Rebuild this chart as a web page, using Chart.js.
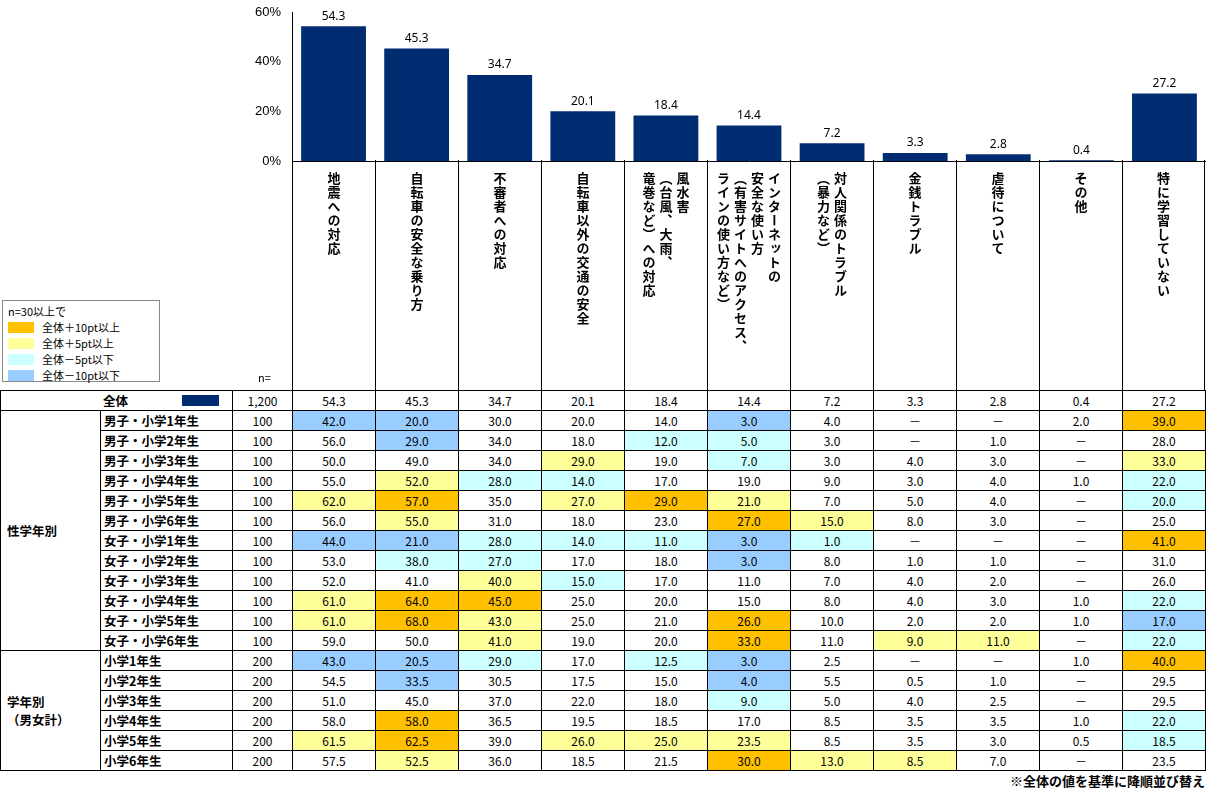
<!DOCTYPE html>
<html><head><meta charset="utf-8">
<script src="https://cdn.jsdelivr.net/npm/chart.js@4/dist/chart.umd.min.js"></script>
<style>
body{margin:0;width:1209px;height:791px;position:relative;background:#fff;font-family:"Noto Sans CJK JP","Noto Sans",sans-serif;color:#000;overflow:hidden}
#cw{position:absolute;left:232px;top:0;width:974px;height:172px}
#hdr{position:absolute;left:292px;top:160px;height:230px;display:flex}
#hdr div{width:83px;box-sizing:border-box;border-left:1px solid #000;height:230px;display:flex;justify-content:center;padding-top:12px}
#hdr div span{writing-mode:vertical-rl;font-size:13px;font-weight:bold;line-height:17px;white-space:pre;letter-spacing:1px}
#hdr div:last-child{border-right:1px solid #000}
table{position:absolute;left:0;top:390px;border-collapse:collapse;table-layout:fixed;font-size:12px}
td{border:1px solid #000;height:19px;padding:0;text-align:center;line-height:18px}
td.lab{font-weight:bold;text-align:left;padding-left:3px;font-size:12.5px}
td.grp{font-weight:bold;text-align:left;padding-left:6px;font-size:12.5px;line-height:18px}
.c10p{background:#FFC000}.c5p{background:#FFFF99}.c5m{background:#CCFFFF}.c10m{background:#99CCFF}
#leg{position:absolute;left:2px;top:300px;width:158px;height:82px;border:1px solid #888;font-size:11px;box-sizing:border-box;padding:2px 5px}
#leg div{height:16px;display:flex;align-items:center}
#leg i{display:inline-block;width:26px;height:11px;margin-right:8px}
#nlab{position:absolute;left:258px;top:369px;font-size:11px}
#foot{position:absolute;right:4px;top:771px;font-size:13px;font-weight:bold}
</style></head><body>
<div id="cw"><canvas id="c"></canvas></div>
<div id="hdr"></div>
<div id="leg"><div>n=30以上で</div><div><i style="background:#FFC000"></i>全体＋10pt以上</div><div><i style="background:#FFFF99"></i>全体＋5pt以上</div><div><i style="background:#CCFFFF"></i>全体－5pt以下</div><div><i style="background:#99CCFF"></i>全体－10pt以下</div></div>
<div id="nlab">n=</div>
<div id="foot">※全体の値を基準に降順並び替え</div>
<script>
const categories = ['地震への対応','自転車の安全な乗り方','不審者への対応','自転車以外の交通の安全','風水害\n（台風、大雨、\n竜巻など）への対応','インターネットの\n安全な使い方\n（有害サイトへのアクセス、\nラインの使い方など）','対人関係のトラブル\n（暴力など）','金銭トラブル','虐待について','その他','特に学習していない'];
const overall = [54.3,45.3,34.7,20.1,18.4,14.4,7.2,3.3,2.8,0.4,27.2];
const yTicks = ['0%','20%','40%','60%'];
const rowLabels = ['男子・小学1年生','男子・小学2年生','男子・小学3年生','男子・小学4年生','男子・小学5年生','男子・小学6年生','女子・小学1年生','女子・小学2年生','女子・小学3年生','女子・小学4年生','女子・小学5年生','女子・小学6年生','小学1年生','小学2年生','小学3年生','小学4年生','小学5年生','小学6年生'];
const rowN = [100,100,100,100,100,100,100,100,100,100,100,100,200,200,200,200,200,200];
const rowValues = [
 [42.0,20.0,30.0,20.0,14.0,3.0,4.0,null,null,2.0,39.0],
 [56.0,29.0,34.0,18.0,12.0,5.0,3.0,null,1.0,null,28.0],
 [50.0,49.0,34.0,29.0,19.0,7.0,3.0,4.0,3.0,null,33.0],
 [55.0,52.0,28.0,14.0,17.0,19.0,9.0,3.0,4.0,1.0,22.0],
 [62.0,57.0,35.0,27.0,29.0,21.0,7.0,5.0,4.0,null,20.0],
 [56.0,55.0,31.0,18.0,23.0,27.0,15.0,8.0,3.0,null,25.0],
 [44.0,21.0,28.0,14.0,11.0,3.0,1.0,null,null,null,41.0],
 [53.0,38.0,27.0,17.0,18.0,3.0,8.0,1.0,1.0,null,31.0],
 [52.0,41.0,40.0,15.0,17.0,11.0,7.0,4.0,2.0,null,26.0],
 [61.0,64.0,45.0,25.0,20.0,15.0,8.0,4.0,3.0,1.0,22.0],
 [61.0,68.0,43.0,25.0,21.0,26.0,10.0,2.0,2.0,1.0,17.0],
 [59.0,50.0,41.0,19.0,20.0,33.0,11.0,9.0,11.0,null,22.0],
 [43.0,20.5,29.0,17.0,12.5,3.0,2.5,null,null,1.0,40.0],
 [54.5,33.5,30.5,17.5,15.0,4.0,5.5,0.5,1.0,null,29.5],
 [51.0,45.0,37.0,22.0,18.0,9.0,5.0,4.0,2.5,null,29.5],
 [58.0,58.0,36.5,19.5,18.5,17.0,8.5,3.5,3.5,1.0,22.0],
 [61.5,62.5,39.0,26.0,25.0,23.5,8.5,3.5,3.0,0.5,18.5],
 [57.5,52.5,36.0,18.5,21.5,30.0,13.0,8.5,7.0,null,23.5]
];

// header
const hdr = document.getElementById('hdr');
categories.forEach((c) => { const d = document.createElement('div'); const s = document.createElement('span'); s.textContent = c; d.appendChild(s); hdr.appendChild(d); });

// table
const cls = (v, i) => {
  if (v == null) return '';
  const d = v - overall[i];
  if (d >= 10) return 'c10p'; if (d >= 5) return 'c5p'; if (d <= -10) return 'c10m'; if (d <= -5) return 'c5m'; return '';
};
let html = '<colgroup><col style="width:100px"><col style="width:132px"><col style="width:60px">' + categories.map(() => '<col style="width:83px">').join('') + '</colgroup>';
html += '<tr><td colspan="2" class="lab" style="padding-left:102px;position:relative">全体<span style="position:absolute;left:181px;top:4px;width:37px;height:11px;background:#002D72"></span></td><td>1,200</td>' + overall.map((v) => `<td>${v.toFixed(1)}</td>`).join('') + '</tr>';
rowLabels.forEach((lab, r) => {
  let g = '';
  if (r === 0) g = '<td rowspan="12" class="grp">性学年別</td>';
  if (r === 12) g = '<td rowspan="6" class="grp">学年別<br>（男女計）</td>';
  html += `<tr>${g}<td class="lab">${lab}</td><td>${rowN[r]}</td>` + rowValues[r].map((v, i) => `<td class="${cls(v, i)}">${v == null ? '－' : v.toFixed(1)}</td>`).join('') + '</tr>';
});
const t = document.createElement('table'); t.innerHTML = html; document.body.appendChild(t);

// bar chart
const valueLabels = {
  id: 'valueLabels',
  afterDatasetsDraw(chart) {
    const { ctx } = chart;
    ctx.save(); ctx.font = '12px "Noto Sans", sans-serif'; ctx.fillStyle = '#000'; ctx.textAlign = 'center'; ctx.textBaseline = 'bottom';
    chart.getDatasetMeta(0).data.forEach((b, i) => ctx.fillText(overall[i].toFixed(1), b.x, b.y - 4));
    ctx.restore();
  },
};
new Chart(document.getElementById('c'), {
  type: 'bar',
  data: { labels: categories, datasets: [{ data: overall, backgroundColor: '#002D72', barPercentage: 0.78, categoryPercentage: 1 }] },
  options: {
    responsive: true, maintainAspectRatio: false, animation: false,
    layout: { padding: { top: 12, right: 0, bottom: 0 } },
    plugins: { legend: { display: false }, tooltip: { enabled: false } },
    scales: {
      x: { ticks: { display: false }, grid: { display: false }, border: { color: '#000' } },
      y: {
        min: 0, max: 60,
        afterFit(s) { s.width = 60; },
        ticks: { stepSize: 20, color: '#000', font: { size: 13 }, callback: (v) => yTicks[v / 20] },
        grid: { display: false, drawTicks: true }, border: { color: '#000' },
      },
    },
  },
  plugins: [valueLabels],
});
</script>
</body></html>
